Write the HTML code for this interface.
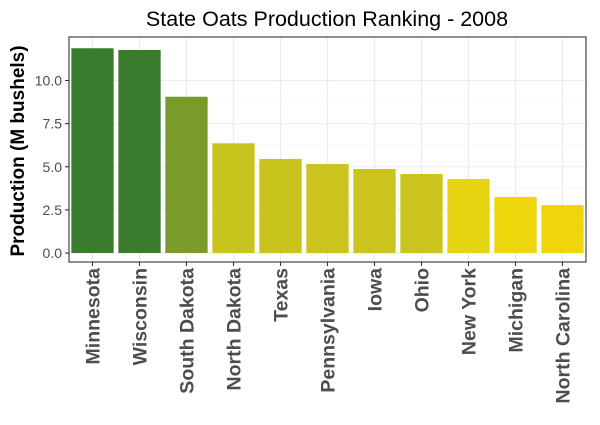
<!DOCTYPE html>
<html><head><meta charset="utf-8"><style>
body{margin:0;background:#fff;width:600px;height:420px;overflow:hidden}
text{font-family:"Liberation Sans",sans-serif}
</style></head><body>
<svg id="chart" width="600" height="420" xmlns="http://www.w3.org/2000/svg">
<text x="327" y="26" font-size="21.5" text-anchor="middle" fill="#000">State Oats Production Ranking - 2008</text>
<text transform="translate(24,151) rotate(-90)" font-size="19" font-weight="bold" text-anchor="middle" fill="#000">Production (M bushels)</text>
<g id="plot"></g>
</svg>
<script>
const categories=["Minnesota","Wisconsin","South Dakota","North Dakota","Texas","Pennsylvania","Iowa","Ohio","New York","Michigan","North Carolina"];
const values=[11.87,11.77,9.06,6.36,5.45,5.16,4.87,4.58,4.29,3.25,2.78];
const colors=["#3a7c2d","#3a7c2d","#7a9b2a","#c9c31e","#c9c31e","#cbc41e","#cbc41e","#cbc41e","#e6d312","#eed60c","#efd60b"];
const yTicks=[0,2.5,5,7.5,10];
const yTickLabels=["0.0","2.5","5.0","7.5","10.0"];
const NS="http://www.w3.org/2000/svg";
const L=69,R=586,T=37,B=262,Y0=253,PPU=17.25;
const y=v=>Y0-v*PPU;
const step=(R-L)/categories.length;
const x=i=>L+step*(i+0.5);
const g=document.getElementById('plot');
function mk(t,a){const e=document.createElementNS(NS,t);for(const k in a)e.setAttribute(k,a[k]);g.appendChild(e);return e;}
const bg=mk('rect',{x:L,y:T,width:R-L,height:B-T,fill:'#fff'});


for(let i=0;i<yTicks.length-1;i++){const m=(yTicks[i]+yTicks[i+1])/2;const l=mk('line',{x1:L,x2:R,y1:y(m),y2:y(m),stroke:'#f2f2f2','stroke-width':0.6});

}
{const l=mk('line',{x1:L,x2:R,y1:y(12.5),y2:y(12.5),stroke:'#f2f2f2','stroke-width':0.6});

}
yTicks.forEach((v,i)=>{const l=mk('line',{x1:L,x2:R,y1:y(v),y2:y(v),stroke:'#ebebeb','stroke-width':1.1});


const tk=mk('line',{x1:L-4,x2:L,y1:y(v),y2:y(v),stroke:'#333','stroke-width':1.1});


const t=mk('text',{x:L-7,y:y(v)+5,'font-size':14,'text-anchor':'end',fill:'#4d4d4d'});t.textContent=yTickLabels[i];

});
categories.forEach((c,i)=>{const l=mk('line',{x1:x(i),x2:x(i),y1:T,y2:B,stroke:'#ebebeb','stroke-width':1.1});

});
categories.forEach((c,i)=>{const w=step*0.9;
const r=mk('rect',{x:x(i)-w/2,y:y(values[i]),width:w,height:Y0-y(values[i]),fill:colors[i]});


const tk=mk('line',{x1:x(i),x2:x(i),y1:B,y2:B+4,stroke:'#333','stroke-width':1.1});


const t=mk('text',{transform:`translate(${x(i)+7},${B+6}) rotate(-90)`,'font-size':19.5,'font-weight':'bold','text-anchor':'end',fill:'#4d4d4d'});t.textContent=c;

});
const fr=mk('rect',{x:L,y:T,width:R-L,height:B-T,fill:'none',stroke:'#333','stroke-width':1.1});


</script>
</body></html>
